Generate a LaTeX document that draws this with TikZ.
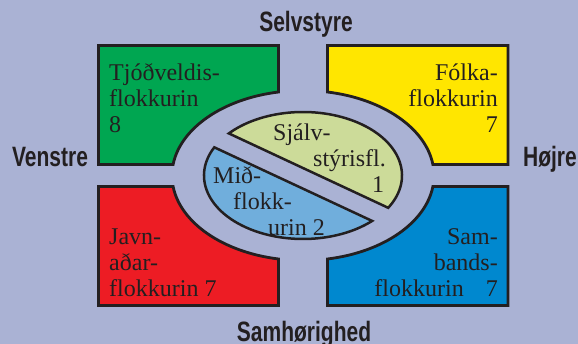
\documentclass[tikz,border=0pt]{standalone}
\usepackage{fontspec}
\setmainfont{Liberation Serif}
\newfontfamily\axisfont[FakeStretch=0.75]{Liberation Sans}
\definecolor{bgblue}{RGB}{170,178,212}
\definecolor{inkgray}{RGB}{35,31,32}
\definecolor{tjodgreen}{RGB}{0,166,81}
\definecolor{folkyellow}{RGB}{255,230,0}
\definecolor{javnred}{RGB}{237,28,36}
\definecolor{sambblue}{RGB}{0,136,207}
\definecolor{sjalvgreen}{RGB}{204,219,153}
\definecolor{midblue}{RGB}{112,174,220}

\begin{document}
\begin{tikzpicture}[x=1pt,y=1pt,
    partybox/.style={draw=inkgray, line width=2.8pt},
    halfblob/.style={draw=inkgray, line width=2.5pt},
    boxtext/.style={text=inkgray, font=\fontsize{24}{26.3}\selectfont, inner sep=0pt},
    axislabel/.style={text=inkgray, font=\axisfont\bfseries\fontsize{28}{30}\selectfont, inner sep=0pt}]
    \fill[bgblue] (-303,-168.5) rectangle (275,175.5);
    \useasboundingbox (-303,-168.5) rectangle (275,175.5);

    \filldraw[partybox, fill=tjodgreen] (-204.5,130) -- (-24.5,130) -- (100.78:131 and 85)
        arc[start angle=100.78, end angle=172.56, x radius=131, y radius=85] -- (-204.5,11) -- cycle;
    \filldraw[partybox, fill=folkyellow] (205,130) -- (24.5,130) -- (79.22:131 and 85)
        arc[start angle=79.22, end angle=7.44, x radius=131, y radius=85] -- (205,11) -- cycle;
    \filldraw[partybox, fill=javnred] (-204.5,-130) -- (-24.5,-130) -- (259.22:131 and 85)
        arc[start angle=259.22, end angle=187.44, x radius=131, y radius=85] -- (-204.5,-11) -- cycle;
    \filldraw[partybox, fill=sambblue] (205,-130) -- (24.5,-130) -- (280.78:131 and 85)
        arc[start angle=280.78, end angle=352.56, x radius=131, y radius=85] -- (205,-11) -- cycle;

    \filldraw[halfblob, fill=sjalvgreen] (138.5:99 and 63.5) -- (-30.6:99 and 63.5)
        arc[start angle=-30.6, end angle=138.5, x radius=99, y radius=63.5] -- cycle;
    \filldraw[halfblob, fill=midblue] (-45.7:99 and 63.5) -- (153.65:99 and 63.5)
        arc[start angle=153.65, end angle=314.3, x radius=99, y radius=63.5] -- cycle;

    \node[boxtext, anchor=base west, align=left] (tjod) at (-194,42.5) {Tjóðveldis-\\flokkurin\\8};
    \node[boxtext, anchor=base east, align=right] (folk) at (195,42.5) {Fólka-\\flokkurin\\7};
    \node[boxtext, anchor=base west, align=left] (javn) at (-194,-121.5) {Javn-\\aðar-\\flokkurin 7};
    \node[boxtext, anchor=base east, align=right] (samb) at (195,-121.5) {Sam-\\bands-\\flokkurin\hspace{22pt}7};
    \node[boxtext, anchor=base west, align=left] (sjalv) at (-30,-17.5) {Sjálv-\\\hspace*{40pt}stýrisfl.\\\hspace*{99pt}1};
    \node[boxtext, anchor=base west, align=left] (mid) at (-90,-60.5) {Mið-\\\hspace*{20pt}flokk-\\\hspace*{55pt}urin 2};

    \node[axislabel, anchor=base] (selvstyre) at (3,143.5) {Selvstyre};
    \node[axislabel, anchor=base] (samhorighed) at (1,-166.5) {Samhørighed};
    \node[axislabel, anchor=base] (venstre) at (-253,8.5) {Venstre};
    \node[axislabel, anchor=base east] (hojre) at (274,8.5) {Højre};
\end{tikzpicture}
\end{document}
